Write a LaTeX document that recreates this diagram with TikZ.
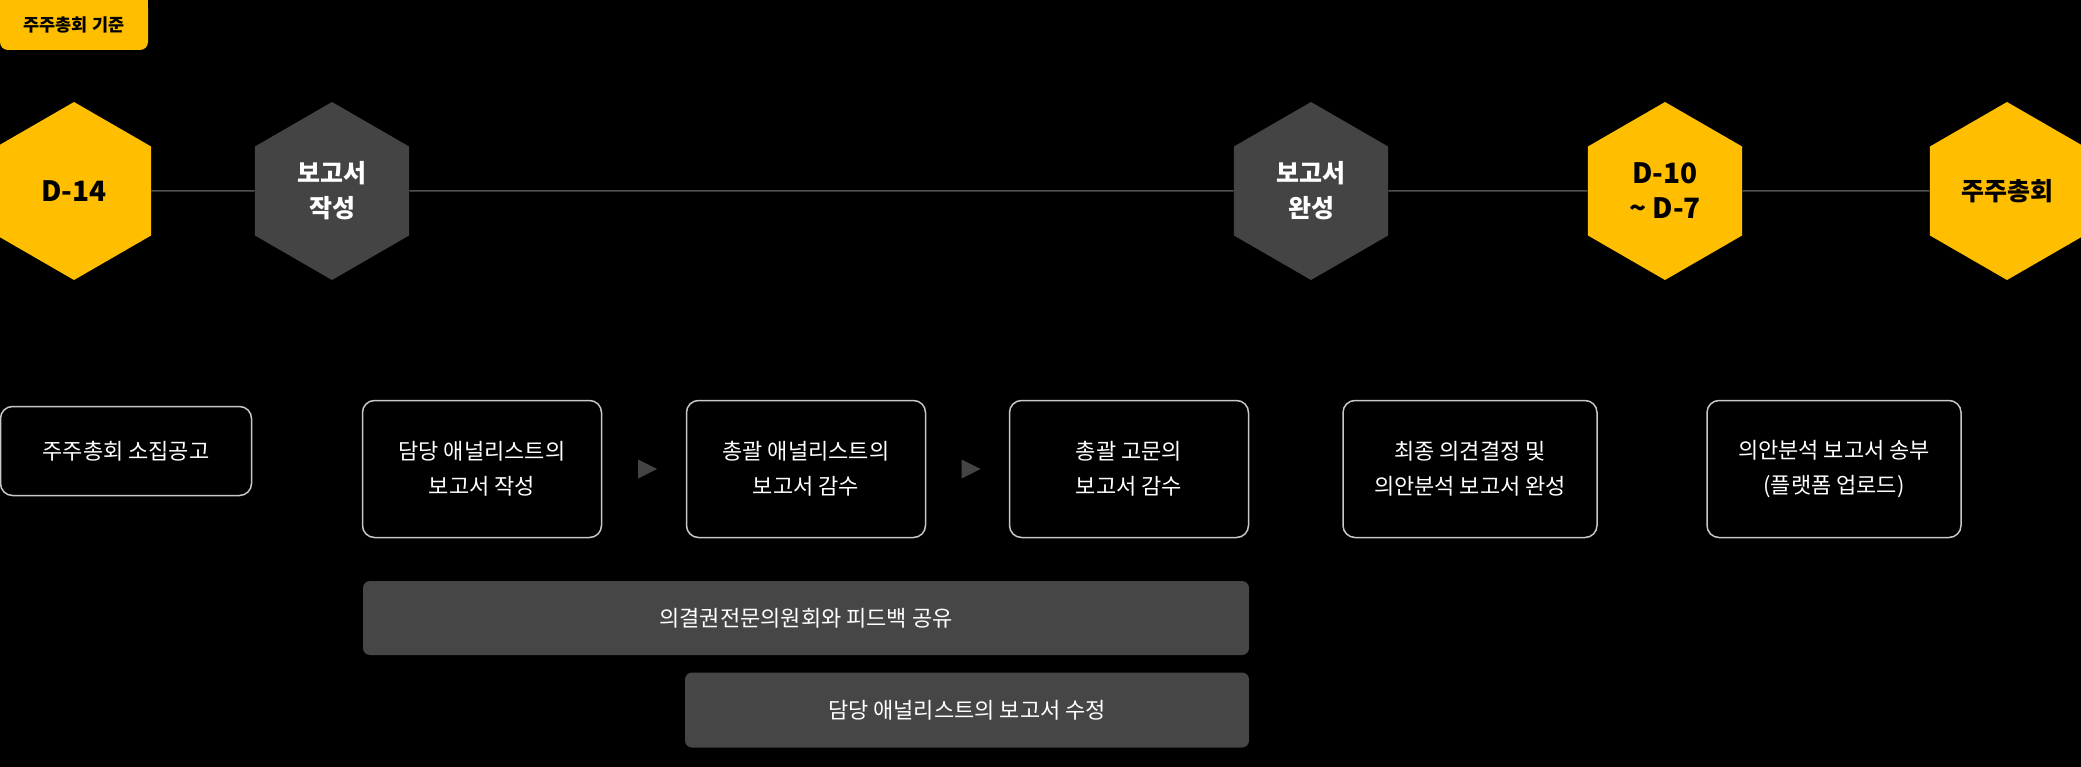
\documentclass[tikz,border=0pt]{standalone}
\usepackage{fontspec}
\setmainfont{Noto Sans CJK KR}
\usetikzlibrary{shapes.geometric}

\begin{document}
\begin{tikzpicture}[x=1pt, y=-1pt,
    hexa/.style={regular polygon, regular polygon sides=6, shape border rotate=30,
      minimum size=178pt, inner sep=0pt, align=center, font=\fontsize{25}{35}\selectfont\bfseries},
    hexyellow/.style={hexa, fill=my-yellow, text=black},
    hexgray/.style={hexa, fill=my-gray, text=white},
    stepbox/.style={draw=my-line, line width=1.5pt, rounded corners=12pt, inner sep=0pt,
      text=white, align=center, font=\fontsize{22}{35}\selectfont},
    bar/.style={fill=my-bar, rounded corners=7pt, inner sep=0pt, text=white,
      font=\fontsize{22}{35}\selectfont},
    pointer/.style={isosceles triangle, isosceles triangle stretches, fill=my-gray,
      minimum width=19pt, minimum height=19pt, inner sep=0pt}]
    \definecolor{my-yellow}{HTML}{FFBE00}
    \definecolor{my-gray}{HTML}{444444}
    \definecolor{my-bar}{HTML}{464646}
    \definecolor{my-line}{HTML}{C8C8C8}
    \definecolor{my-rule}{HTML}{505050}
    \fill[black] (0,0) rectangle (2081,767);
    \useasboundingbox (0,0) rectangle (2081,767);
    \fill[my-yellow] (0,0) rectangle (148,25);
    \node[fill=my-yellow, rounded corners=8pt, minimum width=148pt, minimum height=50pt, inner sep=0pt,
      font=\fontsize{17.5}{20}\selectfont\bfseries] (basis) at (74,25) {주주총회 기준};
    \node[hexyellow] (d14)   at (74,191)   {\fontsize{28}{35}\selectfont D-14};
    \node[hexgray]   (write) at (332,191)  {보고서\\작성};
    \node[hexgray]   (done)  at (1311,191) {보고서\\완성};
    \node[hexyellow, font=\fontsize{28}{35}\selectfont\bfseries] (d10) at (1665,191) {D-10\\\textasciitilde{} D-7};
    \node[hexyellow] (agm)   at (2007,191) {주주총회};
    \draw[my-rule, line width=1.5pt] (d14) -- (write) -- (done) -- (d10) -- (agm);
    \node[stepbox, minimum width=251pt, minimum height=89pt]  (notice) at (126,451)  {주주총회 소집공고};
    \node[stepbox, minimum width=239pt, minimum height=137pt] (draft)  at (482,469)  {담당 애널리스트의\\보고서 작성};
    \node[stepbox, minimum width=239pt, minimum height=137pt] (review) at (806,469)  {총괄 애널리스트의\\보고서 감수};
    \node[stepbox, minimum width=239pt, minimum height=137pt] (advise) at (1129,469) {총괄 고문의\\보고서 감수};
    \node[stepbox, minimum width=254pt, minimum height=137pt] (final)  at (1470,469) {최종 의견결정 및\\의안분석 보고서 완성};
    \node[stepbox, minimum width=254pt, minimum height=137pt] (send)   at (1834,469) {의안분석 보고서 송부\\(플랫폼 업로드)};
    \path (draft) -- node[pointer] {} (review);
    \path (review) -- node[pointer] {} (advise);
    \node[bar, minimum width=886pt, minimum height=74pt] (feedback) at (806,618) {의결권전문의원회와 피드백 공유};
    \node[bar, minimum width=564pt, minimum height=75pt] (revise)   at (967,710) {담당 애널리스트의 보고서 수정};
\end{tikzpicture}
\end{document}
